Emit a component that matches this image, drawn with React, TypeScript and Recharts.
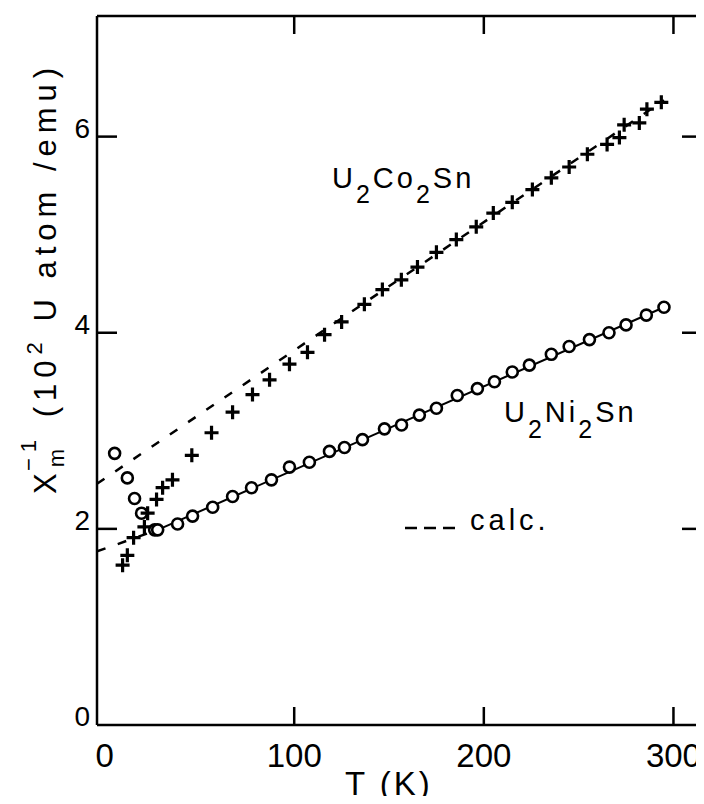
import { ComposedChart, Scatter, Line, XAxis, YAxis } from "recharts";

const FONT = '"Liberation Sans", Arial, sans-serif';

// U2Co2Sn (crosses)
const coT = [9.5, 12, 15.3, 21, 22.7, 27.4, 30.6, 35.8, 46, 56.4, 67.5, 78, 87, 97.5, 107, 116, 125, 137, 146.5, 156.5, 165, 175, 185.5, 196, 205, 215, 225.6, 235.6, 245, 254.6, 265, 271.5, 274, 282, 286, 293.6];
const coV = [1.63, 1.73, 1.91, 2.02, 2.16, 2.3, 2.42, 2.5, 2.75, 2.98, 3.19, 3.37, 3.52, 3.68, 3.8, 3.98, 4.11, 4.29, 4.44, 4.54, 4.67, 4.82, 4.95, 5.08, 5.22, 5.33, 5.46, 5.58, 5.69, 5.82, 5.92, 5.99, 6.12, 6.14, 6.28, 6.35];

// U2Ni2Sn (circles)
const niT = [5.3, 12, 15.8, 19.5, 26.4, 28, 38.5, 46.4, 57, 67.5, 77.5, 88, 97.5, 108, 118.6, 126.5, 136, 147.6, 156.6, 166, 175, 186, 196.6, 205.6, 215, 224, 235.6, 245, 255.7, 266, 275, 285.7, 295];
const niV = [2.77, 2.52, 2.31, 2.16, 1.99, 1.99, 2.05, 2.13, 2.22, 2.33, 2.42, 2.5, 2.63, 2.68, 2.79, 2.83, 2.91, 3.02, 3.06, 3.16, 3.23, 3.36, 3.43, 3.5, 3.6, 3.67, 3.78, 3.86, 3.93, 4.0, 4.08, 4.18, 4.26];

// calc. lines
const coCalcT = [-4, 295];
const coCalcV = [2.46, 6.37];
const niCalcT = [-4, 28];
const niCalcV = [1.77, 1.99];
const niFitT = [28, 295];
const niFitV = [1.99, 4.26];

const xTicks = [0, 100, 200, 300];
const yTicks = [0, 2, 4, 6];

const pts = (t: number[], v: number[]) => t.map((x, i) => ({ t: x, v: v[i] }));

const Circle = ({ cx, cy }: any) => (
  <circle cx={cx} cy={cy} r={5.5} fill="#fff" stroke="#000" strokeWidth={2.6} />
);

const Cross = ({ cx, cy }: any) => (
  <path
    d={`M${cx - 7},${cy} L${cx + 7},${cy} M${cx},${cy - 7} L${cx},${cy + 7}`}
    stroke="#000"
    strokeWidth={3.2}
    fill="none"
  />
);

const BottomTick = ({ x, y, payload }: any) => (
  <g>
    {payload.value !== 0 && <line x1={x} y1={y} x2={x} y2={y - 18} stroke="#000" strokeWidth={2.5} />}
    <text x={x} y={y + 42} textAnchor="middle" fontSize={33} fontFamily={FONT} fill="#000">
      {payload.value}
    </text>
  </g>
);

const TopTick = ({ x, y }: any) => (
  <line x1={x} y1={y} x2={x} y2={y + 18} stroke="#000" strokeWidth={2.5} />
);

const LeftTick = ({ x, y, payload }: any) => (
  <g>
    {payload.value !== 0 && <line x1={x} y1={y} x2={x + 20} y2={y} stroke="#000" strokeWidth={2.5} />}
    <text x={x - 7} y={y + 1} textAnchor="end" fontSize={28} fontFamily={FONT} fill="#000">
      {payload.value}
    </text>
  </g>
);

const RightTick = ({ x, y, payload }: any) =>
  payload.value === 0 ? <g /> : <line x1={x} y1={y} x2={x - 18} y2={y} stroke="#000" strokeWidth={2.5} />;

export default function App() {
  const axisLine = { stroke: "#000", strokeWidth: 2.5 };
  return (
    <div
      style={{
        position: "relative",
        margin: -8,
        width: 704,
        height: 804,
        overflow: "hidden",
        lineHeight: 0,
        background: "#fff",
      }}
    >
      <ComposedChart width={704} height={804} margin={{ top: 15, right: 3, left: 0, bottom: 19 }}>
        <XAxis
          xAxisId="b"
          type="number"
          dataKey="t"
          domain={[-4, 314]}
          ticks={xTicks}
          allowDataOverflow
          height={60}
          axisLine={axisLine}
          tickLine={false}
          tickSize={0}
          tickMargin={0}
          tick={(p: any) => <BottomTick {...p} />}
        />
        <XAxis
          xAxisId="t"
          orientation="top"
          type="number"
          dataKey="t"
          domain={[-4, 314]}
          ticks={xTicks.slice(1)}
          allowDataOverflow
          height={1}
          axisLine={axisLine}
          tickLine={false}
          tickSize={0}
          tickMargin={0}
          tick={(p: any) => <TopTick {...p} />}
        />
        <YAxis
          yAxisId="l"
          type="number"
          dataKey="v"
          domain={[0, 7.23]}
          ticks={yTicks}
          allowDataOverflow
          width={97}
          axisLine={axisLine}
          tickLine={false}
          tickSize={0}
          tickMargin={0}
          tick={(p: any) => <LeftTick {...p} />}
        />
        <YAxis
          yAxisId="r"
          orientation="right"
          type="number"
          dataKey="v"
          domain={[0, 7.23]}
          ticks={yTicks}
          allowDataOverflow
          width={1}
          axisLine={axisLine}
          tickLine={false}
          tickSize={0}
          tickMargin={0}
          tick={(p: any) => <RightTick {...p} />}
        />
        <Line
          xAxisId="b"
          yAxisId="l"
          data={pts(coCalcT, coCalcV)}
          dataKey="v"
          type="linear"
          stroke="#000"
          strokeWidth={2.5}
          strokeDasharray="9 13"
          dot={false}
          isAnimationActive={false}
        />
        <Line
          xAxisId="b"
          yAxisId="l"
          data={pts(niCalcT, niCalcV)}
          dataKey="v"
          type="linear"
          stroke="#000"
          strokeWidth={2.5}
          strokeDasharray="9 13"
          dot={false}
          isAnimationActive={false}
        />
        <Line
          xAxisId="b"
          yAxisId="l"
          data={pts(niFitT, niFitV)}
          dataKey="v"
          type="linear"
          stroke="#000"
          strokeWidth={2}
          dot={false}
          isAnimationActive={false}
        />
        <Scatter
          xAxisId="b"
          yAxisId="l"
          data={pts(niT, niV)}
          dataKey="v"
          shape={(p: any) => <Circle {...p} />}
          isAnimationActive={false}
        />
        <Scatter
          xAxisId="b"
          yAxisId="l"
          data={pts(coT, coV)}
          dataKey="v"
          shape={(p: any) => <Cross {...p} />}
          isAnimationActive={false}
        />
        {/* keeps the top / right frame axes attached to a series */}
        <Scatter
          xAxisId="t"
          yAxisId="r"
          data={pts(coT, coV)}
          dataKey="v"
          shape={() => <g />}
          isAnimationActive={false}
        />
      </ComposedChart>
      <svg
        width={704}
        height={804}
        style={{ position: "absolute", left: 0, top: 0, pointerEvents: "none" }}
        fontFamily={FONT}
      >
        <text transform="translate(56,494) rotate(-90)" fontSize={31} letterSpacing={6} style={{ whiteSpace: "pre" }}>
          <tspan>X</tspan>
          <tspan fontSize={22} dy={8}>m</tspan>
          <tspan fontSize={22} dx={-28} dy={-28}>−1</tspan>
          <tspan dx={2} dy={20}> (10</tspan>
          <tspan fontSize={22} dy={-14}>2</tspan>
          <tspan dy={14}> U atom /emu)</tspan>
        </text>
        <text x={332} y={188} fontSize={29} letterSpacing={3} style={{ whiteSpace: "pre" }}>
          <tspan>U</tspan>
          <tspan fontSize={25} dy={15}>2</tspan>
          <tspan dy={-15}>Co</tspan>
          <tspan fontSize={25} dy={15}>2</tspan>
          <tspan dy={-15}>Sn</tspan>
        </text>
        <text x={504} y={422} fontSize={29} letterSpacing={3} style={{ whiteSpace: "pre" }}>
          <tspan>U</tspan>
          <tspan fontSize={25} dy={16}>2</tspan>
          <tspan dy={-16}>Ni</tspan>
          <tspan fontSize={25} dy={16}>2</tspan>
          <tspan dy={-16}>Sn</tspan>
        </text>
        <line x1={405} y1={528} x2={456} y2={528} stroke="#000" strokeWidth={2.5} strokeDasharray="12 7" />
        <text x={470} y={530} fontSize={29} letterSpacing={4}>
          calc.
        </text>
        <text x={345} y={795} fontSize={33} letterSpacing={3} style={{ whiteSpace: "pre" }}>
          T (K)
        </text>
      </svg>
    </div>
  );
}
